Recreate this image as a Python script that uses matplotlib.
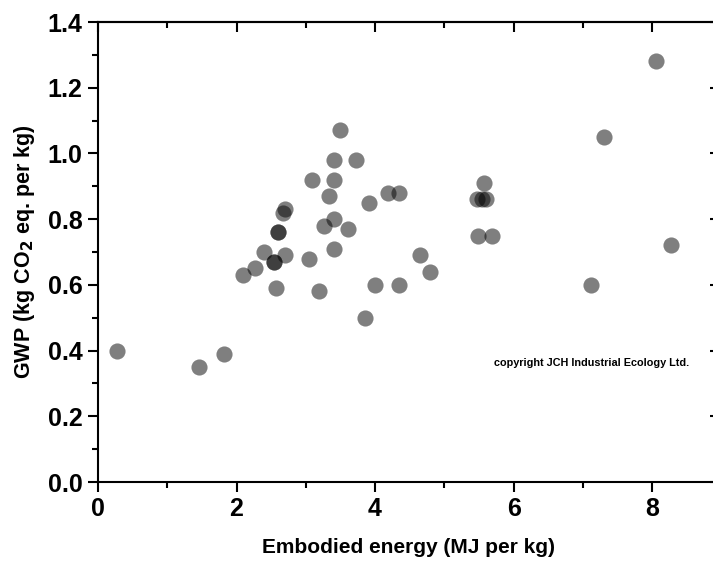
import numpy as np
import matplotlib
matplotlib.use("Agg")
import matplotlib.pyplot as plt
from matplotlib.ticker import MultipleLocator, FormatStrFormatter, NullFormatter

plt.rcParams['font.family'] = ['Liberation Sans', 'DejaVu Sans']
plt.rcParams['font.weight'] = 'bold'
plt.rcParams['mathtext.default'] = 'bf'

# embodied energy (MJ per kg) and GWP (kg CO2 eq. per kg)
energy = [0.28, 1.46, 1.82, 2.10, 2.27, 2.39, 2.54, 2.54, 2.57, 2.60, 2.60,
          2.67, 2.70, 2.70, 3.04, 3.09, 3.19, 3.26, 3.34, 3.40, 3.40, 3.40,
          3.40, 3.50, 3.61, 3.73, 3.86, 3.91, 4.00, 4.18, 4.34, 4.34, 4.65,
          4.80, 5.47, 5.48, 5.55, 5.58, 5.60, 5.69, 7.12, 7.31, 8.05, 8.27]
gwp = [0.40, 0.35, 0.39, 0.63, 0.65, 0.70, 0.67, 0.67, 0.59, 0.76, 0.76,
       0.82, 0.83, 0.69, 0.68, 0.92, 0.58, 0.78, 0.87, 0.98, 0.92, 0.80,
       0.71, 1.07, 0.77, 0.98, 0.50, 0.85, 0.60, 0.88, 0.88, 0.60, 0.69,
       0.64, 0.86, 0.75, 0.86, 0.91, 0.86, 0.75, 0.60, 1.05, 1.28, 0.72]

fig = plt.figure(figsize=(7.13, 5.65), dpi=100)
ax = fig.add_axes([98/713, 83/565, 622/713, 460/565])

ax.scatter(energy, gwp, s=135, color='black', alpha=0.5, linewidths=0, zorder=3)

ax.set_xlim(0, 8.98)
ax.set_ylim(0, 1.4)
ax.xaxis.set_major_locator(MultipleLocator(2))
ax.xaxis.set_minor_locator(MultipleLocator(1))
ax.yaxis.set_major_locator(MultipleLocator(0.2))
ax.yaxis.set_minor_locator(MultipleLocator(0.1))
ax.yaxis.set_major_formatter(FormatStrFormatter('%.1f'))

for s in ax.spines.values():
    s.set_linewidth(1.5)

ax.tick_params(axis='both', which='major', direction='out', length=7, width=1.5,
               labelsize=18, pad=4)
ax.tick_params(axis='both', which='minor', direction='out', length=4, width=1.5)

# top and right: ticks pointing in, no labels
top = ax.secondary_xaxis('top')
top.xaxis.set_major_locator(MultipleLocator(2))
top.xaxis.set_minor_locator(MultipleLocator(1))
top.xaxis.set_major_formatter(NullFormatter())
top.tick_params(which='major', direction='in', length=7, width=1.5)
top.tick_params(which='minor', direction='in', length=4, width=1.5)
top.spines['top'].set_linewidth(1.5)

right = ax.secondary_yaxis('right')
right.yaxis.set_major_locator(MultipleLocator(0.2))
right.yaxis.set_minor_locator(MultipleLocator(0.1))
right.yaxis.set_major_formatter(NullFormatter())
right.tick_params(which='major', direction='in', length=7, width=1.5)
right.tick_params(which='minor', direction='in', length=4, width=1.5)

for lab in ax.get_xticklabels() + ax.get_yticklabels():
    lab.set_fontweight('bold')

ax.set_xlabel('Embodied energy (MJ per kg)', fontsize=15, fontweight='bold', labelpad=12)
ax.set_ylabel('GWP (kg CO$_2$ eq. per kg)', fontsize=15.5, fontweight='bold', labelpad=8)

ax.text(7.13, 0.362, 'copyright JCH Industrial Ecology Ltd.', fontsize=7.8,
        fontweight='bold', ha='center', va='center')

fig.savefig('out.png', dpi=100)
